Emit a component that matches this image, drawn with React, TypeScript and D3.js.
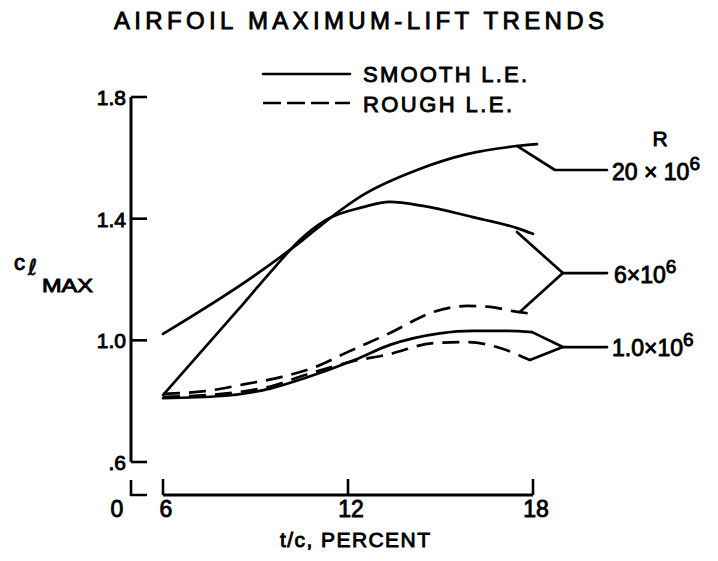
import React from "react";
import * as d3 from "d3";

// ---- data (t/c in percent, section max lift coefficient) ----
const smooth20T = [6, 9, 10.5, 11.42, 12.49, 14.24, 15.86, 17.48, 18.13];
const smooth20Cl = [1.021, 1.215, 1.327, 1.402, 1.478, 1.56, 1.612, 1.639, 1.645];

const smooth6T = [6, 8.43, 9.63, 10.44, 11.29, 12.49, 13.36, 14.43, 16.05, 17.48, 18.0];
const smooth6Cl = [0.82, 1.1, 1.241, 1.33, 1.396, 1.438, 1.455, 1.442, 1.405, 1.369, 1.35];

const rough6T = [6, 7.36, 8.66, 9.86, 10.93, 12.0, 13.36, 14.76, 15.86, 16.61, 17.35, 17.97];
const rough6Cl = [0.824, 0.833, 0.856, 0.88, 0.912, 0.962, 1.024, 1.093, 1.113, 1.11, 1.096, 1.087];

const smooth1T = [6, 7.91, 9.54, 10.61, 12.23, 13.36, 14.98, 16.05, 17.16, 17.97];
const smooth1Cl = [0.81, 0.817, 0.843, 0.876, 0.936, 0.985, 1.023, 1.031, 1.031, 1.027];

const rough1T = [6, 7.91, 9.54, 10.61, 12.07, 13.36, 14.76, 15.86, 16.93, 17.9];
const rough1Cl = [0.814, 0.824, 0.85, 0.886, 0.929, 0.955, 0.991, 0.994, 0.975, 0.935];

// leader lines to Reynolds-number labels (t/c, cl)
const leader20 = [[17.48, 1.639], [18.71, 1.56], [20.4, 1.56]];
const leader6 = [[17.48, 1.356], [18.97, 1.221], [17.58, 1.094]];
const leader6H = [[18.97, 1.221], [20.4, 1.221]];
const leader1 = [[17.97, 1.027], [18.97, 0.978], [17.9, 0.935]];
const leader1H = [[18.97, 0.978], [20.4, 0.978]];

const xTicks = [6, 12, 18];
const yTicks = [0.6, 1.0, 1.4, 1.8];
const yTickLabels = [".6", "1.0", "1.4", "1.8"];

const FONT = "'Liberation Sans', Arial, sans-serif";

export default function App() {
  const x = d3.scaleLinear().domain([6, 18]).range([163, 533]);
  const y = d3.scaleLinear().domain([0.6, 1.8]).range([462, 97]);
  const line = d3
    .line<number[]>()
    .x((d) => x(d[0]))
    .y((d) => y(d[1]))
    .curve(d3.curveMonotoneX);
  const straight = d3
    .line<number[]>()
    .x((d) => x(d[0]))
    .y((d) => y(d[1]));
  const zip = (a: number[], b: number[]) => a.map((v, i) => [v, b[i]]);

  const solid = { fill: "none", stroke: "#000", strokeWidth: 2.7, strokeLinecap: "round" as const, strokeLinejoin: "round" as const };
  const dashed = { ...solid, strokeDasharray: "17,9", strokeLinecap: "butt" as const };
  const txt = { fontFamily: FONT, fill: "#000", stroke: "#000", strokeWidth: 0.9 };
  const axisX0 = 131;

  return (
    <svg width={718} height={561} style={{ position: "absolute", left: 0, top: 0, background: "#fff" }}>
      <rect width={718} height={561} fill="#fff" />
      {/* title */}
      <text x={359} y={29} fontSize={24} textAnchor="middle" textLength={490} lengthAdjust="spacing" {...txt}>
        AIRFOIL MAXIMUM-LIFT TRENDS
      </text>

      {/* legend */}
      <line x1={263} x2={350} y1={74} y2={74} {...solid} />
      <text x={363} y={82} fontSize={22} textLength={164} lengthAdjust="spacing" {...txt}>SMOOTH L.E.</text>
      <line x1={263} x2={350} y1={103} y2={103} {...solid} strokeDasharray="18,6" strokeLinecap="butt" />
      <text x={363} y={112} fontSize={22} textLength={149} lengthAdjust="spacing" {...txt}>ROUGH L.E.</text>

      {/* y axis */}
      <line x1={axisX0} x2={axisX0} y1={y(1.8)} y2={y(0.6)} stroke="#000" strokeWidth={3} />
      {yTicks.map((t, i) => (
        <g key={t}>
          <line x1={axisX0} x2={axisX0 + 16} y1={y(t)} y2={y(t)} stroke="#000" strokeWidth={2.6} />
          <text x={126} y={y(t) + 8} fontSize={21} textAnchor="end" {...txt}>
            {yTickLabels[i]}
          </text>
        </g>
      ))}
      {/* y label */}
      <text x={14} y={270} fontSize={22} {...txt}>c</text>
      <text x={28} y={275} fontSize={22} fontFamily="'DejaVu Sans', sans-serif" fill="#000" stroke="#000" strokeWidth={0.6}>ℓ</text>
      <text x={42} y={292} fontSize={19} textLength={51} lengthAdjust="spacingAndGlyphs" {...txt}>MAX</text>

      {/* x axis with break */}
      <path d={`M${axisX0},480 V495 H${axisX0 + 16}`} fill="none" stroke="#000" strokeWidth={2.6} />
      <text x={117} y={517} fontSize={23} textAnchor="middle" {...txt}>0</text>
      <line x1={x(6)} x2={x(18)} y1={495} y2={495} stroke="#000" strokeWidth={2.8} />
      {xTicks.map((t) => (
        <g key={t}>
          <line x1={x(t)} x2={x(t)} y1={479} y2={495} stroke="#000" strokeWidth={2.6} />
          <text x={x(t) + 3} y={517} fontSize={23} textAnchor="middle" {...txt}>{t}</text>
        </g>
      ))}
      <text x={355} y={547} fontSize={21} textAnchor="middle" textLength={150} lengthAdjust="spacing" {...txt}>
        t/c, PERCENT
      </text>

      {/* curves */}
      <path d={line(zip(smooth20T, smooth20Cl)) || ""} {...solid} />
      <path d={line(zip(smooth6T, smooth6Cl)) || ""} {...solid} />
      <path d={line(zip(smooth1T, smooth1Cl)) || ""} {...solid} />
      <path d={line(zip(rough6T, rough6Cl)) || ""} {...dashed} />
      <path d={line(zip(rough1T, rough1Cl)) || ""} {...dashed} />

      {/* leaders */}
      <path d={straight(leader20) || ""} {...solid} />
      <path d={straight(leader6) || ""} {...solid} />
      <path d={straight(leader6H) || ""} {...solid} />
      <path d={straight(leader1) || ""} {...solid} />
      <path d={straight(leader1H) || ""} {...solid} />

      {/* Reynolds number labels */}
      <text x={660} y={146} fontSize={21} textAnchor="middle" {...txt}>R</text>
      <text x={612} y={180} fontSize={23} {...txt}>
        20 × 10<tspan dy={-10} fontSize={19}>6</tspan>
      </text>
      <text x={614} y={283} fontSize={23} {...txt}>
        6×10<tspan dy={-10} fontSize={19}>6</tspan>
      </text>
      <text x={612} y={356} fontSize={23} {...txt}>
        1.0×10<tspan dy={-10} fontSize={19}>6</tspan>
      </text>
    </svg>
  );
}
